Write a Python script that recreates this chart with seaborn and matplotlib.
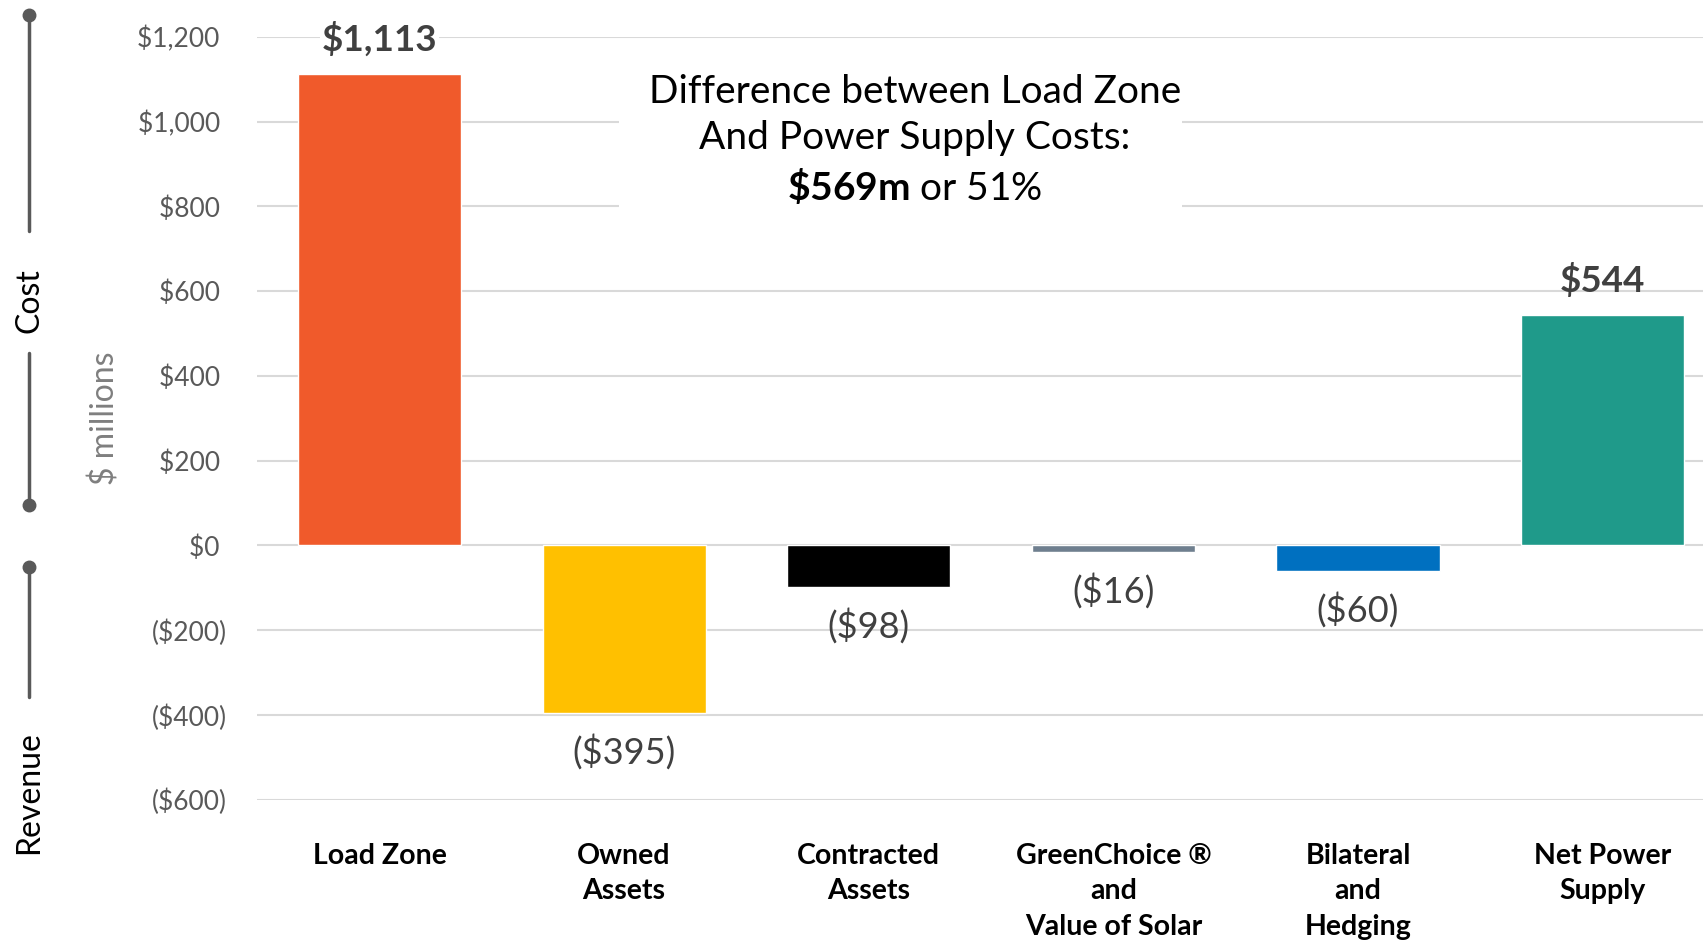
import matplotlib
matplotlib.use('Agg')
import matplotlib.pyplot as plt
from matplotlib.lines import Line2D
from matplotlib.patches import Rectangle
import seaborn as sns
import pandas as pd

# ------------------------------------------------------------------------------------
# data
categories = ['Load Zone', 'Owned\nAssets', 'Contracted\nAssets',
              'GreenChoice \u00ae\nand\nValue of Solar', 'Bilateral\nand\nHedging',
              'Net Power\nSupply']
values = [1113, -395, -98, -16, -60, 544]
bar_colors = ['#F05A2B', '#FFC000', '#000000', '#6F7F8F', '#0070C0', '#1F9A8A']
y_ticks = [-600, -400, -200, 0, 200, 400, 600, 800, 1000, 1200]
note_lines = ['Difference between Load Zone', 'And Power Supply Costs:']
note_amount = '$569m'
note_pct = '51%'

df = pd.DataFrame({'category': categories, 'value': values})

# ------------------------------------------------------------------------------------
sns.set_theme(style='white')
plt.rcParams['font.family'] = ['Lato', 'DejaVu Sans']
plt.rcParams['mathtext.fontset'] = 'custom'
plt.rcParams['mathtext.rm'] = 'Lato'
plt.rcParams['mathtext.bf'] = 'Lato:bold'

fig = plt.figure(figsize=(17.03, 9.43), dpi=100)
ax = fig.add_axes([0.151, 0.152, 0.849, 0.809])

sns.barplot(data=df, x='category', y='value', hue='category',
            palette=bar_colors, legend=False, width=0.667, saturation=1, ax=ax)

ax.set_ylim(-600, 1200)
ax.set_xlim(-0.5, 5.41)
ax.set_yticks(y_ticks)


def money(v):
    if v < 0:
        return '(${:,.0f})'.format(-v)
    return '${:,.0f} '.format(v)


ax.set_yticklabels([money(v) for v in y_ticks], color='#595959', fontsize=19)
ax.tick_params(axis='y', length=0, pad=22)
ax.tick_params(axis='x', length=0, pad=31)
for lab in ax.get_xticklabels():
    lab.set_fontsize(20.5)
    lab.set_fontweight('bold')
    lab.set_color('black')
    lab.set_linespacing(1.46)

ax.yaxis.grid(True, color='#D9D9D9', linewidth=1.5)
ax.set_axisbelow(True)
for s in ax.spines.values():
    s.set_visible(False)
ax.set_xlabel('')
ax.set_ylabel('$ millions', color='#7F7F7F', fontsize=23, labelpad=12)

# value labels
for i, v in enumerate(values):
    if v >= 0:
        bb = dict(facecolor='white', edgecolor='none', pad=1) if v > 1000 else None
        ax.annotate(money(v).strip(), (i, v), xytext=(0, 25), textcoords='offset points',
                    ha='center', va='center', fontsize=26.5, fontweight='bold',
                    color='#404040', bbox=bb)
    else:
        ax.annotate(money(v), (i, v), xytext=(0, -28), textcoords='offset points',
                    ha='center', va='center', fontsize=26, color='#404040')

# note box
ax.add_patch(Rectangle((0.250, 0.767), 0.390, 0.216, transform=ax.transAxes,
                       facecolor='white', edgecolor='none', zorder=1))
note = note_lines[0] + '\n' + note_lines[1] + '\n' + \
    r'$\mathbf{\$569m}$' .replace('$569m', note_amount) + ' or ' + note_pct
ax.text(0.455, 0.864, note, transform=ax.transAxes, ha='center', va='center',
        fontsize=28, color='black', linespacing=1.35, zorder=3)

# cost / revenue brackets on the left
gray = '#595959'
xl = 29 / 1703


def fy(px):
    return 1 - px / 943


for y0, y1 in [(15, 231), (353, 505), (567, 697)]:
    fig.add_artist(Line2D([xl, xl], [fy(y0), fy(y1)], color=gray, lw=2.5))
for yd in [15, 505, 567]:
    fig.add_artist(Line2D([xl], [fy(yd)], marker='o', color=gray, markersize=9))
fig.text(xl, fy(301), 'Cost', rotation=90, ha='center', va='center',
         fontsize=23, color='black')
fig.text(xl, fy(793), 'Revenue', rotation=90, ha='center', va='center',
         fontsize=23, color='black')

fig.savefig('out.png', dpi=100)
